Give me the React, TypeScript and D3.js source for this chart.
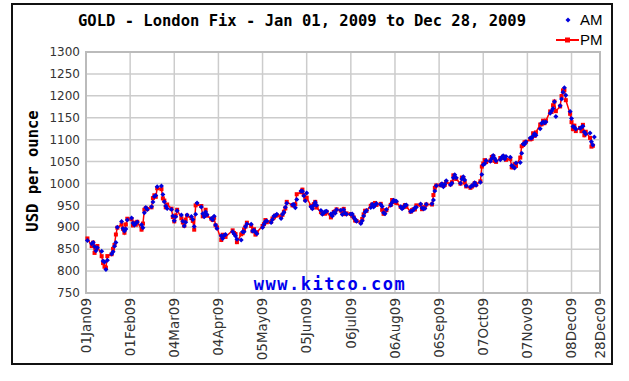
import React, { useEffect, useRef } from 'react';
import * as d3 from 'd3';

// London fix, 2009: [day of month, AM, PM] in USD per ounce
const jan = [
  [2, 869.75, 874.5], [5, 862.5, 857], [6, 865.5, 865], [7, 856, 841.5], [8, 846.5, 853],
  [9, 853.25, 857.25], [12, 845, 834], [13, 822.75, 818.25], [14, 820.5, 810], [15, 803.5, 808],
  [16, 825, 834.25], [19, 838.75, 838.5], [20, 844, 850.75], [21, 856.5, 859.75], [22, 865, 883.5],
  [23, 900, 899], [26, 913, 906.25], [27, 897, 896.5], [28, 891.5, 887.5], [29, 896, 906.5],
  [30, 916.5, 919.5],
];
const feb = [
  [2, 921, 918.5], [3, 909.5, 904.25], [4, 905, 910.5], [5, 909, 905.75], [6, 912, 912.5],
  [9, 905.5, 894.5], [10, 899, 908.5], [11, 933, 940], [12, 945, 943.5], [13, 940.5, 941.5],
  [16, 947, 945.5], [17, 957.5, 966.5], [18, 970, 973], [19, 972.5, 969.5], [20, 992.5, 989],
  [23, 994, 987], [24, 975, 966], [25, 958, 961], [26, 948.5, 945.5], [27, 943, 952],
];
const mar = [
  [2, 940.5, 942.5], [3, 926, 923.5], [4, 915, 913.5], [5, 924, 927], [6, 937.5, 940],
  [9, 928, 920.5], [10, 914, 911], [11, 903, 903.5], [12, 911.5, 917.5], [13, 928, 926.5],
  [16, 924.5, 921], [17, 918, 914.5], [18, 902, 894.5], [19, 930, 950], [20, 955.5, 953],
  [23, 946, 948.5], [24, 931, 925], [25, 924, 925.75], [26, 935, 940], [27, 928.5, 926.5],
  [30, 920, 919.5], [31, 917, 916.5],
];
const apr = [
  [1, 925.25, 921.75], [2, 905, 904.5], [3, 897, 899.5], [6, 880.75, 871], [7, 874.5, 883],
  [8, 882, 880.25], [9, 883.5, 878], [14, 890, 893], [15, 885.5, 887], [16, 880, 884.5],
  [17, 872.5, 866], [20, 871, 884], [21, 889.5, 886.5], [22, 890, 895], [23, 901, 901.5],
  [24, 907.5, 910.5], [27, 907, 903], [28, 891.5, 891], [29, 893, 895.5], [30, 889, 883.25],
];
const may = [
  [1, 885.5, 888.5], [5, 899.5, 903], [6, 906.75, 907.25], [7, 913, 916.5], [8, 914.5, 911.5],
  [11, 910.75, 912.5], [12, 918, 920], [13, 925.5, 922.5], [14, 927, 926.5], [15, 929.5, 927],
  [18, 920, 925], [19, 930, 928.5], [20, 934.5, 935.5], [21, 945.5, 943], [22, 955, 958],
  [26, 951.5, 950], [27, 952, 950], [28, 944.5, 952.5], [29, 963.5, 975.5],
];
const jun = [
  [1, 983, 980], [2, 982, 986], [3, 972, 974], [4, 960.5, 963], [5, 978, 967.5],
  [8, 947, 949], [9, 942.5, 944.5], [10, 950.5, 952.75], [11, 957, 958], [12, 950, 945],
  [15, 938.5, 934.5], [16, 930, 932], [17, 933, 932], [18, 936, 931], [19, 936.5, 935],
  [22, 930.5, 922.5], [23, 926, 929], [24, 934.5, 935], [25, 932, 936], [26, 940, 941],
  [29, 939, 938], [30, 929, 934.5],
];
const jul = [
  [1, 940, 942], [2, 932.5, 930], [3, 930, 931.75], [6, 929.5, 930.25], [7, 930.5, 926.25],
  [8, 923, 922.5], [9, 918.25, 915.5], [10, 914, 914.25], [13, 908.5, 911.5], [14, 915, 919],
  [15, 925.5, 929.5], [16, 935, 937.75], [17, 938, 937.5], [20, 945.25, 949], [21, 952.75, 952],
  [22, 946, 950], [23, 950.5, 955.5], [24, 954.5, 951], [27, 952, 953.5], [28, 947.5, 939.75],
  [29, 933, 930.75], [30, 931, 938], [31, 940.5, 939],
];
const aug = [
  [3, 950, 951], [4, 956.5, 962.25], [5, 961.75, 960], [6, 960, 957.5], [7, 959.5, 955.5],
  [10, 947, 946.5], [11, 942.5, 945.25], [12, 945, 946], [13, 950.5, 950.5], [14, 951, 946.75],
  [17, 936, 935.5], [18, 937, 939.25], [19, 940, 941], [20, 944.5, 940.75], [21, 945.5, 950],
  [24, 953, 951], [25, 944, 941.25], [26, 942, 944], [27, 943, 946], [28, 952.75, 952],
];
const sep = [
  [1, 953.5, 952], [2, 962, 973.5], [3, 983, 990], [4, 995, 995.5], [7, 996.5, 996],
  [8, 999.5, 998], [9, 992.5, 995], [10, 998, 996.75], [11, 1006, 1003.5], [14, 997.25, 998],
  [15, 1000.5, 1002.75], [16, 1013, 1018.5], [17, 1020, 1012], [18, 1013, 1010.25], [21, 1000.75, 999.5],
  [22, 1010, 1013.5], [23, 1015.5, 1012.5], [24, 1008, 1001.75], [25, 995, 993.25], [28, 992, 990],
  [29, 994.5, 992.75], [30, 996, 995.75],
];
const oct = [
  [1, 1001.5, 1000.75], [2, 996, 997.5], [5, 1003, 1005], [6, 1020.5, 1038.5], [7, 1042.5, 1045.5],
  [8, 1044.75, 1053.25], [9, 1052.5, 1048.75], [12, 1050.5, 1052], [13, 1057, 1060.5], [14, 1064, 1062],
  [15, 1057.5, 1051.5], [16, 1052, 1049.25], [19, 1054.25, 1058], [20, 1060, 1058], [21, 1063.25, 1061.25],
  [22, 1056, 1058.5], [23, 1061.5, 1054], [26, 1060, 1056], [27, 1041, 1036.75], [28, 1038, 1036.75],
  [29, 1035, 1044], [30, 1046.5, 1040],
];
const nov = [
  [2, 1048, 1059], [3, 1069, 1085], [4, 1090, 1087.75], [5, 1089.25, 1094], [6, 1095, 1095],
  [9, 1103.5, 1100.5], [10, 1104, 1101.75], [11, 1108.5, 1114.5], [12, 1113.5, 1108.5], [13, 1110, 1116.5],
  [16, 1125, 1134.5], [17, 1137.5, 1135], [18, 1140, 1143.25], [19, 1138.5, 1137.5], [20, 1140.5, 1143.5],
  [23, 1160.5, 1164.5], [24, 1165.5, 1163.25], [25, 1171, 1178.5], [26, 1186.5, 1187], [27, 1153, 1165],
  [30, 1177.5, 1175.75],
];
const dec = [
  [1, 1193, 1199.5], [2, 1208, 1212.5], [3, 1218.25, 1212.75], [4, 1201.5, 1190], [7, 1164, 1159],
  [8, 1148.5, 1140], [9, 1130, 1124], [10, 1128.5, 1132], [11, 1124.5, 1119.5], [14, 1126, 1126.75],
  [15, 1128, 1119.25], [16, 1130.5, 1133.75], [17, 1117.5, 1110], [18, 1113, 1118], [21, 1115, 1104],
  [22, 1095, 1084], [23, 1088, 1086], [24, 1106, null],
];

const months = [jan, feb, mar, apr, may, jun, jul, aug, sep, oct, nov, dec];
const yTicks = [750, 800, 850, 900, 950, 1000, 1050, 1100, 1150, 1200, 1250, 1300];
const xTickLabels = ['01Jan09', '01Feb09', '04Mar09', '04Apr09', '05May09', '05Jun09', '06Jul09',
  '06Aug09', '06Sep09', '07Oct09', '07Nov09', '08Dec09', '28Dec09'];

const mono = '"DejaVu Sans Mono", monospace';
const sans = '"DejaVu Sans", Verdana, sans-serif';

const App = () => {
  const ref = useRef(null);

  useEffect(() => {
    const svg = d3.select(ref.current);
    svg.selectAll('*').remove();

    const rows = months.flatMap((m, i) =>
      m.map(([d, am, pm]) => ({ date: new Date(2009, i, d), am, pm })));
    const parse = d3.timeParse('%d%b%y');
    const tickDates = xTickLabels.map(t => parse(t));

    const left = 86, right = 600, top = 52, bottom = 293;
    const x = d3.scaleTime().domain([new Date(2009, 0, 1), new Date(2009, 11, 28)]).range([left, right]);
    const y = d3.scaleLinear().domain([750, 1300]).range([bottom, top]);

    // outer frame
    svg.append('rect').attr('x', 12).attr('y', 4).attr('width', 600).attr('height', 360)
      .attr('fill', 'white').attr('stroke', '#111').attr('stroke-width', 2);

    // grid
    const grid = svg.append('g').attr('stroke', '#cccccc').attr('stroke-width', 1.5);
    grid.selectAll('.h').data(yTicks).enter().append('line')
      .attr('x1', left).attr('x2', right)
      .attr('y1', d => y(d)).attr('y2', d => y(d));
    grid.selectAll('.v').data(tickDates).enter().append('line')
      .attr('x1', d => x(d)).attr('x2', d => x(d))
      .attr('y1', top).attr('y2', bottom);
    svg.append('rect').attr('x', left).attr('y', top).attr('width', right - left).attr('height', bottom - top)
      .attr('fill', 'none').attr('stroke', '#bbb').attr('stroke-width', 2);

    // y tick labels
    svg.append('g').selectAll('text').data(yTicks).enter().append('text')
      .attr('x', 80).attr('y', d => y(d)).attr('dy', '0.35em')
      .attr('text-anchor', 'end').style('font-family', sans).style('font-size', '12px')
      .attr('fill', '#333').text(d => d);

    // x tick labels
    svg.append('g').selectAll('text').data(tickDates).enter().append('text')
      .attr('transform', d => `translate(${x(d)},${bottom + 5}) rotate(-90)`)
      .attr('dy', '0.35em').attr('text-anchor', 'end')
      .style('font-family', sans).style('font-size', '13.5px').attr('fill', '#333')
      .text((d, i) => xTickLabels[i]);

    // watermark
    svg.append('text').attr('x', 330).attr('y', 290).attr('text-anchor', 'middle')
      .style('font-family', mono).style('font-weight', 'bold').style('font-size', '17px')
      .style('letter-spacing', '1.5px').attr('fill', '#0000ee').text('www.kitco.com');

    // PM line + squares
    const pmRows = rows.filter(d => d.pm != null);
    const line = d3.line().x(d => x(d.date)).y(d => y(d.pm));
    svg.append('path').datum(pmRows).attr('d', line)
      .attr('fill', 'none').attr('stroke', '#ff0000').attr('stroke-width', 1.5);
    svg.append('g').selectAll('rect').data(pmRows).enter().append('rect')
      .attr('x', d => x(d.date) - 2).attr('y', d => y(d.pm) - 2)
      .attr('width', 4).attr('height', 4).attr('fill', '#ff0000');

    // AM diamonds
    const diamond = 'M0,-2.5L2.5,0L0,2.5L-2.5,0Z';
    svg.append('g').selectAll('path').data(rows).enter().append('path')
      .attr('d', diamond)
      .attr('transform', d => `translate(${x(d.date)},${y(d.am)})`)
      .attr('fill', '#0000dd');

    // title
    svg.append('text').attr('x', 302).attr('y', 26).attr('text-anchor', 'middle')
      .style('font-family', mono).style('font-weight', 'bold').style('font-size', '15.5px')
      .attr('fill', '#000').text('GOLD - London Fix - Jan 01, 2009 to Dec 28, 2009');

    // y axis title
    svg.append('text').attr('transform', 'translate(38,171) rotate(-90)').attr('text-anchor', 'middle')
      .style('font-family', mono).style('font-weight', 'bold').style('font-size', '15.5px')
      .attr('fill', '#000').text('USD per ounce');

    // legend
    const lg = svg.append('g').style('font-family', '"Liberation Sans", Arial, sans-serif').style('font-size', '15px');
    lg.append('path').attr('d', diamond).attr('transform', 'translate(568,20)').attr('fill', '#0000dd');
    lg.append('text').attr('x', 580).attr('y', 25).text('AM');
    lg.append('line').attr('x1', 556).attr('x2', 579).attr('y1', 40).attr('y2', 40)
      .attr('stroke', '#ff0000').attr('stroke-width', 2);
    lg.append('rect').attr('x', 565).attr('y', 37.5).attr('width', 5).attr('height', 5).attr('fill', '#ff0000');
    lg.append('text').attr('x', 580).attr('y', 45).text('PM');
  }, []);

  return (
    <svg ref={ref} width={629} height={381}
      style={{ position: 'absolute', left: 0, top: 0, background: 'white' }} />
  );
};

export default App;
